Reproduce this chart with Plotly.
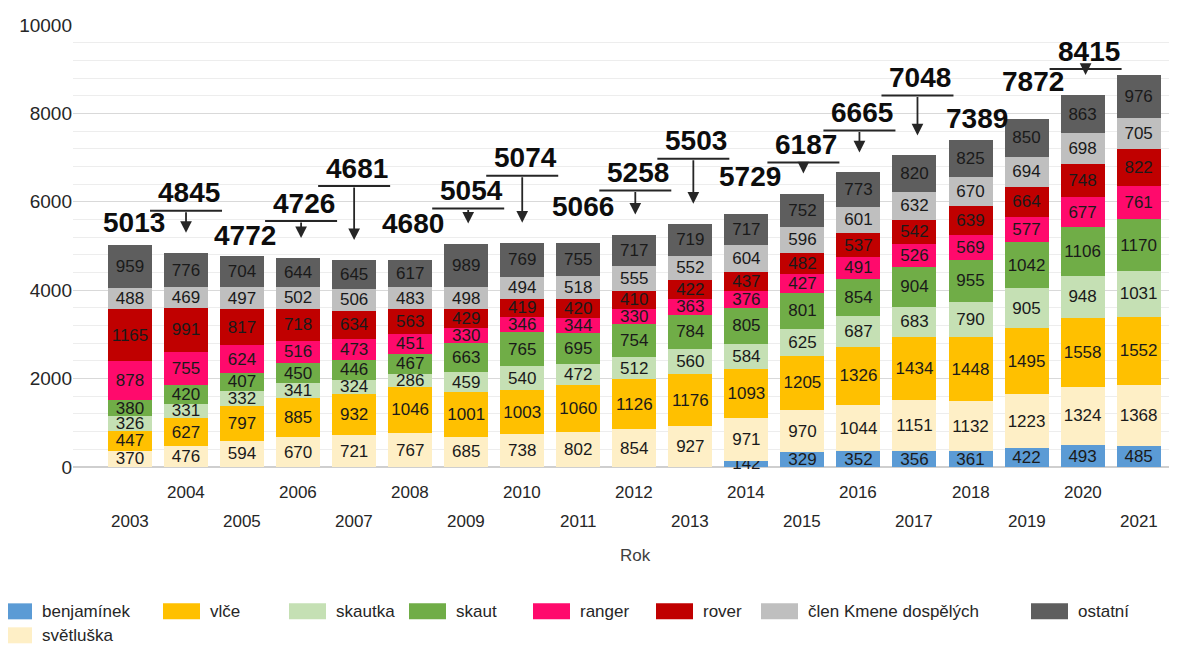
import plotly.graph_objects as go

# ---------------- data ----------------
years = list(range(2003, 2022))
series_names = ["benjamínek", "světluška", "vlče", "skautka", "skaut",
                "ranger", "rover", "člen Kmene dospělých", "ostatní"]

benjaminek = [None] * 11 + [142, 329, 352, 356, 361, 422, 493, 485]
svetluska = [370, 476, 594, 670, 721, 767, 685, 738, 802, 854, 927, 971, 970, 1044, 1151, 1132, 1223, 1324, 1368]
vlce = [447, 627, 797, 885, 932, 1046, 1001, 1003, 1060, 1126, 1176, 1093, 1205, 1326, 1434, 1448, 1495, 1558, 1552]
skautka = [326, 331, 332, 341, 324, 286, 459, 540, 472, 512, 560, 584, 625, 687, 683, 790, 905, 948, 1031]
skaut = [380, 420, 407, 450, 446, 467, 663, 765, 695, 754, 784, 805, 801, 854, 904, 955, 1042, 1106, 1170]
ranger = [878, 755, 624, 516, 473, 451, 330, 346, 344, 330, 363, 376, 427, 491, 526, 569, 577, 677, 761]
rover = [1165, 991, 817, 718, 634, 563, 429, 419, 420, 410, 422, 437, 482, 537, 542, 639, 664, 748, 822]
clen = [488, 469, 497, 502, 506, 483, 498, 494, 518, 555, 552, 604, 596, 601, 632, 670, 694, 698, 705]
ostatni = [959, 776, 704, 644, 645, 617, 989, 769, 755, 717, 719, 717, 752, 773, 820, 825, 850, 863, 976]

series_values = [benjaminek, svetluska, vlce, skautka, skaut, ranger, rover, clen, ostatni]
y_ticks = [0, 2000, 4000, 6000, 8000, 10000]
y_tick_labels = ["0", "2000", "4000", "6000", "8000", "10000"]
x_title = "Rok"

# ---------------- styles ----------------
colors = ["#5B9BD5", "#FEEFC6", "#FFC000", "#C5E0B4", "#70AD47",
          "#FF0A6C", "#C00000", "#BFBFBF", "#5E5E5E"]
legend_order = [0, 2, 3, 4, 5, 6, 7, 8, 1]   # order of legend entries
legend_text_x = [40, 208, 334, 454, 578, 701, 806, 1076, 40]
legend_row = [0, 0, 0, 0, 0, 0, 0, 0, 1]

# total-label callout offsets in pixels relative to bar top (None = no label)
callout_dx = [4, 3, 3, 6, 3, 3, 5, 3, 5, 4, 6, 4, 4, 4, 6, 6, 6, 6, None]
callout_dy = [-21, -58, -19, -53, -90, -35, -51, -83, -35, -60, -81, -35, -47, -58, -76, -20, -36, -42, None]
callout_arrow = [0, 1, 0, 1, 1, 0, 1, 1, 0, 1, 1, 0, 1, 1, 1, 0, 0, 1, 0]

# page places the figure 8px in from the window corner
OFF = 8
W, H = 1177 - OFF, 646 - OFF
ML, MT = 73 - OFF, 25 - OFF
PLOT_BOTTOM = 467.5 - OFF
PLOT_RIGHT = 1170 - OFF
MR, MB = W - PLOT_RIGHT, H - PLOT_BOTTOM
PW, PH = W - ML - MR, H - MT - MB
FONT = "Liberation Sans, Arial, sans-serif"
DARK = "#262626"


def paper_x(px):
    """reference-window pixel x -> paper x"""
    return (px - OFF - ML) / PW


def paper_y(py):
    """reference-window pixel y -> paper y"""
    return (PLOT_BOTTOM - (py - OFF)) / PH


idx = list(range(len(years)))
fig = go.Figure()
for name, vals, col in zip(series_names, series_values, colors):
    fig.add_trace(go.Bar(
        x=idx, y=vals, name=name, marker=dict(color=col, line=dict(width=0)),
        text=["" if v is None else str(v) for v in vals],
        textposition="inside", insidetextanchor="middle", textangle=0,
        textfont=dict(size=17, color="#1a1a1a", family=FONT),
        cliponaxis=False, showlegend=False, hoverinfo="skip",
    ))

totals = [sum(s[i] or 0 for s in series_values) for i in idx]

annotations = []
shapes = []
for i in idx:
    if callout_dy[i] is None:
        continue
    annotations.append(dict(
        x=i, y=totals[i], xref="x", yref="y", text=f"<b>{totals[i]}</b>",
        showarrow=False, xanchor="center", yanchor="middle",
        xshift=callout_dx[i], yshift=-callout_dy[i] + 2,
        font=dict(size=28, color="#0d0d0d", family=FONT),
    ))
    if callout_arrow[i]:
        ul = callout_dy[i] + 16
        cx = callout_dx[i] - 3
        shapes.append(dict(
            type="line", xref="x", yref="y", xsizemode="pixel", ysizemode="pixel",
            xanchor=i, yanchor=totals[i], x0=cx - 36, x1=cx + 36, y0=-ul, y1=-ul,
            line=dict(color=DARK, width=2),
        ))
        annotations.append(dict(
            x=i, y=totals[i], xref="x", yref="y", text="",
            showarrow=True, arrowhead=2, arrowsize=1.3, arrowwidth=1.8, arrowcolor=DARK,
            ax=0, ay=ul + 20, axref="pixel", ayref="pixel",
            xshift=cx, yshift=20, standoff=0, startstandoff=0,
            font=dict(size=1),
        ))

# staggered year labels
for i, yr in enumerate(years):
    annotations.append(dict(
        x=i, y=0, xref="x", yref="paper", text=str(yr), showarrow=False,
        xanchor="center", yanchor="middle", yshift=-25 if yr % 2 == 0 else -54,
        font=dict(size=17, color=DARK, family=FONT),
    ))

annotations.append(dict(
    x=paper_x(635), y=paper_y(556), xref="paper", yref="paper", text=x_title,
    showarrow=False, xanchor="center", yanchor="middle",
    font=dict(size=17, color="#404040", family=FONT),
))

# legend (drawn)
for k, si in enumerate(legend_order):
    tx = legend_text_x[k]
    row_y = 612 + 24 * legend_row[k]
    shapes.append(dict(
        type="rect", xref="paper", yref="paper",
        x0=paper_x(max(OFF, tx - 45)), x1=paper_x(tx - 8),
        y0=paper_y(row_y - 8), y1=paper_y(row_y + 8),
        fillcolor=colors[si], line=dict(width=0),
    ))
    annotations.append(dict(
        x=paper_x(tx), y=paper_y(row_y), xref="paper", yref="paper",
        text=series_names[si], showarrow=False, xanchor="left", yanchor="middle",
        font=dict(size=17, color=DARK, family=FONT),
    ))

fig.update_layout(
    width=W, height=H, barmode="stack", bargap=0.215,
    margin=dict(l=ML, r=MR, t=MT, b=MB, autoexpand=False),
    paper_bgcolor="white", plot_bgcolor="white",
    font=dict(family=FONT, color=DARK),
    uniformtext=dict(minsize=17, mode="show"),
    xaxis=dict(range=[-1.017, 18.56], showticklabels=False, showgrid=False,
               zeroline=False, showline=False, ticks=""),
    yaxis=dict(range=[0, 10000], tickvals=y_ticks, ticktext=y_tick_labels, ticks="",
               tickfont=dict(size=19, color=DARK, family=FONT),
               showgrid=True, gridcolor="#d9d9d9", gridwidth=1,
               minor=dict(dtick=400, showgrid=True, gridcolor="#ededed", gridwidth=1),
               zeroline=True, zerolinecolor="#cfcfcf", zerolinewidth=1.5,
               showline=False),
    annotations=annotations, shapes=shapes, showlegend=False,
)

fig.write_html("out.html")
